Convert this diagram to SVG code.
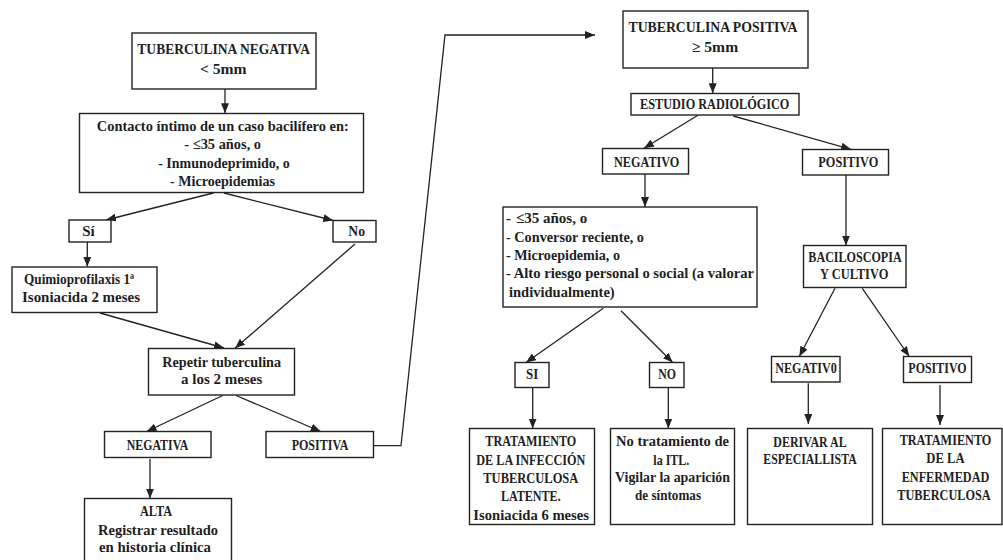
<svg xmlns="http://www.w3.org/2000/svg" width="1003" height="560" viewBox="0 0 1003 560">
<style>
  .box{fill:#fff;stroke:#222;stroke-width:1.4}
  .t{font-family:"Liberation Serif","Times New Roman",serif;font-weight:bold;font-size:15px;fill:#1e1e1e;text-anchor:middle}
  .l{text-anchor:start}
  .s{font-size:14px}
  .c{fill:none;stroke:#222;stroke-width:1.3}
</style>
<defs>
  <marker id="ah" markerUnits="userSpaceOnUse" markerWidth="10" markerHeight="8" viewBox="0 0 10 8" refX="10" refY="4" orient="auto">
    <path d="M0,0 L10,4 L0,8 z" fill="#222"/>
  </marker>
</defs>
<rect width="1003" height="560" fill="#fff"/>

<g id="connectors">
  <line class="c" x1="225" y1="89" x2="225" y2="113.3" marker-end="url(#ah)"/>
  <line class="c" x1="213.3" y1="193" x2="106" y2="220" marker-end="url(#ah)"/>
  <line class="c" x1="224" y1="193" x2="333.3" y2="220.5" marker-end="url(#ah)"/>
  <line class="c" x1="87.3" y1="242" x2="87.3" y2="266.7" marker-end="url(#ah)"/>
  <line class="c" x1="355" y1="244" x2="235" y2="348.3" marker-end="url(#ah)"/>
  <line class="c" x1="100" y1="313" x2="224" y2="348" marker-end="url(#ah)"/>
  <line class="c" x1="222.7" y1="395.5" x2="146.7" y2="431.5" marker-end="url(#ah)"/>
  <line class="c" x1="236" y1="395.5" x2="320.7" y2="431.5" marker-end="url(#ah)"/>
  <line class="c" x1="150" y1="459" x2="150" y2="498.5" marker-end="url(#ah)"/>
  <polyline class="c" points="373.3,445.7 401,445.7 445,35 595,35" marker-end="url(#ah)"/>
  <line class="c" x1="712.7" y1="67.7" x2="712.7" y2="93.3" marker-end="url(#ah)"/>
  <line class="c" x1="698.3" y1="115" x2="644" y2="148.3" marker-end="url(#ah)"/>
  <line class="c" x1="733.3" y1="116" x2="851" y2="149.3" marker-end="url(#ah)"/>
  <line class="c" x1="645" y1="174" x2="645" y2="207" marker-end="url(#ah)"/>
  <line class="c" x1="846" y1="175" x2="846" y2="245.5" marker-end="url(#ah)"/>
  <line class="c" x1="603.3" y1="308.3" x2="526" y2="362.5" marker-end="url(#ah)"/>
  <line class="c" x1="621" y1="310.7" x2="672.7" y2="362.5" marker-end="url(#ah)"/>
  <line class="c" x1="532.7" y1="387.3" x2="532.7" y2="428.5" marker-end="url(#ah)"/>
  <line class="c" x1="668.3" y1="387.3" x2="668.3" y2="428.5" marker-end="url(#ah)"/>
  <line class="c" x1="835" y1="288.3" x2="799.3" y2="356.5" marker-end="url(#ah)"/>
  <line class="c" x1="862.3" y1="288.3" x2="909.3" y2="356.5" marker-end="url(#ah)"/>
  <line class="c" x1="808.3" y1="383.3" x2="808.3" y2="424" marker-end="url(#ah)"/>
  <line class="c" x1="940" y1="385" x2="940" y2="425" marker-end="url(#ah)"/>
</g>

<g id="n-tub-neg">
  <rect class="box" x="132" y="33" width="184" height="56"/>
  <text class="t" x="223.7" y="54.3" textLength="172.7" lengthAdjust="spacingAndGlyphs">TUBERCULINA NEGATIVA</text>
  <text class="t" x="223.3" y="74" textLength="46.7" lengthAdjust="spacingAndGlyphs">&lt; 5mm</text>
</g>
<g id="n-contacto">
  <rect class="box" x="79.5" y="113.5" width="284" height="79"/>
  <text class="t" x="222.8" y="130.7" textLength="252" lengthAdjust="spacingAndGlyphs">Contacto íntimo de un caso bacilífero en:</text>
  <text class="t" x="222.7" y="149.3" textLength="76.7" lengthAdjust="spacingAndGlyphs">-  ≤35 años, o</text>
  <text class="t" x="224" y="167.5" textLength="131.7" lengthAdjust="spacingAndGlyphs">-  Inmunodeprimido, o</text>
  <text class="t" x="222.5" y="185.5" textLength="105" lengthAdjust="spacingAndGlyphs">- Microepidemias</text>
</g>
<g id="n-si">
  <rect class="box" x="69" y="220" width="42" height="22"/>
  <text class="t" x="88.5" y="236">Sí</text>
</g>
<g id="n-no">
  <rect class="box" x="333" y="220.5" width="43" height="21.5"/>
  <text class="t" x="356.7" y="236" textLength="16.7" lengthAdjust="spacingAndGlyphs">No</text>
</g>
<g id="n-quimio">
  <rect class="box" x="12" y="267" width="145" height="45.5"/>
  <text class="t" x="79" y="284.3" textLength="110" lengthAdjust="spacingAndGlyphs">Quimioprofilaxis 1ª</text>
  <text class="t" x="81" y="301.7" textLength="118" lengthAdjust="spacingAndGlyphs">Isoniacida 2 meses</text>
</g>
<g id="n-repetir">
  <rect class="box" x="148.5" y="348.5" width="146" height="46.5"/>
  <text class="t" x="221.7" y="367.3" textLength="118.7" lengthAdjust="spacingAndGlyphs">Repetir tuberculina</text>
  <text class="t" x="221.7" y="384.3" textLength="81.3" lengthAdjust="spacingAndGlyphs">a los 2 meses</text>
</g>
<g id="n-negativa">
  <rect class="box" x="104.5" y="431.5" width="106.5" height="26"/>
  <text class="t" x="157.5" y="450" textLength="61.7" lengthAdjust="spacingAndGlyphs">NEGATIVA</text>
</g>
<g id="n-positiva">
  <rect class="box" x="266" y="431.5" width="107.5" height="26"/>
  <text class="t" x="320" y="450" textLength="56.7" lengthAdjust="spacingAndGlyphs">POSITIVA</text>
</g>
<g id="n-alta">
  <rect class="box" x="84.5" y="498.5" width="147" height="63"/>
  <text class="t" x="156" y="516" textLength="32" lengthAdjust="spacingAndGlyphs">ALTA</text>
  <text class="t" x="158" y="534.5" textLength="120" lengthAdjust="spacingAndGlyphs">Registrar resultado</text>
  <text class="t" x="155" y="552" textLength="112" lengthAdjust="spacingAndGlyphs">en historia clínica</text>
</g>

<g id="n-tub-pos">
  <rect class="box" x="623" y="11" width="185" height="57"/>
  <text class="t" x="713" y="31.7" textLength="169" lengthAdjust="spacingAndGlyphs">TUBERCULINA POSITIVA</text>
  <text class="t" x="715" y="51.7" textLength="46.3" lengthAdjust="spacingAndGlyphs">≥ 5mm</text>
</g>
<g id="n-estudio">
  <rect class="box" x="631" y="93.5" width="168" height="21.5"/>
  <text class="t" x="714.7" y="109.3" textLength="149.3" lengthAdjust="spacingAndGlyphs">ESTUDIO RADIOLÓGICO</text>
</g>
<g id="n-negativo">
  <rect class="box" x="602.5" y="148.5" width="86" height="25.5"/>
  <text class="t" x="646.7" y="166.7" textLength="65.3" lengthAdjust="spacingAndGlyphs">NEGATIVO</text>
</g>
<g id="n-positivo">
  <rect class="box" x="802.5" y="149.5" width="86" height="25.5"/>
  <text class="t" x="848.3" y="166.5" textLength="60" lengthAdjust="spacingAndGlyphs">POSITIVO</text>
</g>
<g id="n-criterios">
  <rect class="box" x="503" y="207" width="254" height="100"/>
  <text class="t l" x="506" y="223.3">-<tspan x="516">≤35 años, o</tspan></text>
  <text class="t l" x="506" y="241.7" textLength="138" lengthAdjust="spacingAndGlyphs">- Conversor reciente, o</text>
  <text class="t l" x="506" y="260" textLength="114" lengthAdjust="spacingAndGlyphs">- Microepidemia, o</text>
  <text class="t l" x="506" y="278.3" textLength="248" lengthAdjust="spacingAndGlyphs">- Alto riesgo personal o social (a valorar</text>
  <text class="t l" x="509" y="296.7" textLength="105.7" lengthAdjust="spacingAndGlyphs">individualmente)</text>
</g>
<g id="n-baciloscopia">
  <rect class="box" x="803.5" y="245.5" width="102.5" height="42"/>
  <text class="t" x="855" y="261.7" textLength="93.3" lengthAdjust="spacingAndGlyphs">BACILOSCOPIA</text>
  <text class="t" x="854.2" y="279.3" textLength="68.3" lengthAdjust="spacingAndGlyphs">Y CULTIVO</text>
</g>
<g id="n-si2">
  <rect class="box" x="515" y="362.5" width="34" height="25"/>
  <text class="t" x="532.2" y="379.3" textLength="12.3" lengthAdjust="spacingAndGlyphs">SI</text>
</g>
<g id="n-no2">
  <rect class="box" x="649.5" y="362.5" width="34.5" height="25"/>
  <text class="t" x="667.2" y="379.3" textLength="17.7" lengthAdjust="spacingAndGlyphs">NO</text>
</g>
<g id="n-trat-itl">
  <rect class="box" x="469.5" y="428.5" width="125" height="96"/>
  <text class="t" x="530.8" y="445.7" textLength="91" lengthAdjust="spacingAndGlyphs">TRATAMIENTO</text>
  <text class="t" x="530.8" y="464.5" textLength="109" lengthAdjust="spacingAndGlyphs">DE LA INFECCIÓN</text>
  <text class="t" x="530.8" y="482.7" textLength="95" lengthAdjust="spacingAndGlyphs">TUBERCULOSA</text>
  <text class="t" x="530.8" y="501" textLength="59.7" lengthAdjust="spacingAndGlyphs">LATENTE.</text>
  <text class="t" x="531.2" y="519.5" textLength="115.7" lengthAdjust="spacingAndGlyphs">Isoniacida 6 meses</text>
</g>
<g id="n-no-trat">
  <rect class="box" x="610.5" y="428.5" width="124" height="96"/>
  <text class="t" x="672.5" y="445.7" textLength="113" lengthAdjust="spacingAndGlyphs">No tratamiento de</text>
  <text class="t" x="671.3" y="464.5" textLength="36" lengthAdjust="spacingAndGlyphs">la ITL.</text>
  <text class="t" x="672.5" y="482" textLength="115" lengthAdjust="spacingAndGlyphs">Vigilar la aparición</text>
  <text class="t" x="668" y="500.3" textLength="66" lengthAdjust="spacingAndGlyphs">de síntomas</text>
</g>
<g id="n-negativ0">
  <rect class="box" x="771.5" y="356.5" width="68.5" height="25.5"/>
  <text class="t" x="806" y="373.3" textLength="61.7" lengthAdjust="spacingAndGlyphs">NEGATIV0</text>
</g>
<g id="n-positivo2">
  <rect class="box" x="903.5" y="356.5" width="68" height="26"/>
  <text class="t" x="937.5" y="373.3" textLength="58.3" lengthAdjust="spacingAndGlyphs">POSITIVO</text>
</g>
<g id="n-derivar">
  <rect class="box" x="747.5" y="428.5" width="125" height="96"/>
  <text class="t" x="810" y="446.7" textLength="73.3" lengthAdjust="spacingAndGlyphs">DERIVAR AL</text>
  <text class="t" x="810" y="464.3" textLength="93.3" lengthAdjust="spacingAndGlyphs">ESPECIALLISTA</text>
</g>
<g id="n-trat-enf">
  <rect class="box" x="882.5" y="428.5" width="119.5" height="96"/>
  <text class="t s" x="945.5" y="445" textLength="91.7" lengthAdjust="spacingAndGlyphs">TRATAMIENTO</text>
  <text class="t s" x="945.5" y="463.3" textLength="38.3" lengthAdjust="spacingAndGlyphs">DE LA</text>
  <text class="t s" x="945.5" y="481.7" textLength="87.7" lengthAdjust="spacingAndGlyphs">ENFERMEDAD</text>
  <text class="t s" x="944" y="500" textLength="93.3" lengthAdjust="spacingAndGlyphs">TUBERCULOSA</text>
</g>
</svg>
